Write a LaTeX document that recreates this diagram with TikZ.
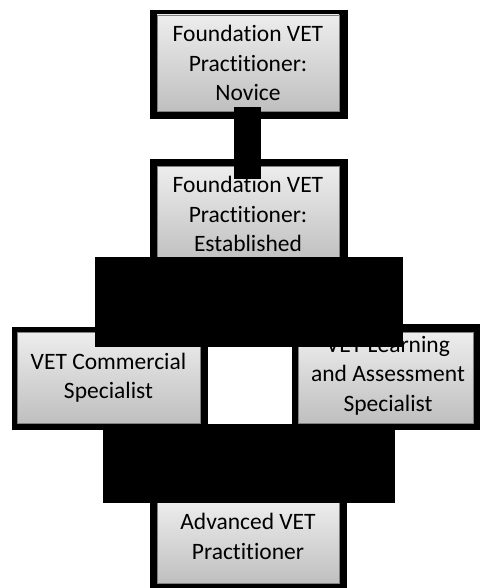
\documentclass[tikz,border=0pt]{standalone}
\usepackage{fontspec}
\setmainfont[Ligatures={NoCommon}]{Carlito}
\definecolor{boxtop}{gray}{0.93}
\definecolor{boxbot}{gray}{0.75}
\pgfdeclarelayer{bg}
\pgfsetlayers{bg,main}
\begin{document}
\begin{tikzpicture}[x=1pt,y=-1pt,
  box/.style={rectangle, top color=boxtop, bottom color=boxbot, draw=gray, line width=0.8pt,
    align=center, inner sep=0pt, font=\fontsize{23.5}{29.5}\selectfont},
  boxtext/.style={align=center, inner sep=0pt, font=\fontsize{23.5}{29.5}\selectfont},
  frame/.style={fill=black},
  blk/.style={fill=black}]
\useasboundingbox (0,0) rectangle (480,588);

% Novice
\node[box, minimum width=182pt, minimum height=96pt] (novice) at (248,63)
  {Foundation VET\\Practitioner:\\Novice};
\begin{pgfonlayer}{bg}
\fill[frame] ([xshift=-7pt,yshift=5pt]novice.north west) rectangle ([xshift=9pt,yshift=-8pt]novice.south east);
\end{pgfonlayer}

% Established
\node[box, minimum width=182pt, minimum height=96pt] (established) at (248,214)
  {Foundation VET\\Practitioner:\\Established};
\begin{pgfonlayer}{bg}
\fill[frame] ([xshift=-7pt,yshift=7pt]established.north west) rectangle ([xshift=9pt,yshift=-8pt]established.south east);
\end{pgfonlayer}

% connector novice -> established
\fill[blk] ([xshift=-14pt,yshift=4pt]novice.south) rectangle ([xshift=13pt,yshift=-13pt]established.north);

% Commercial
\node[box, minimum width=183pt, minimum height=91pt] (commercial) at (108.5,377.5)
  {VET Commercial\\Specialist};
\begin{pgfonlayer}{bg}
\fill[frame] ([xshift=-5pt,yshift=5pt]commercial.north west) rectangle ([xshift=8pt,yshift=-7pt]commercial.south east);
\end{pgfonlayer}

% Learning and Assessment
\node[box, minimum width=175pt, minimum height=91pt] (learning) at (385.5,377.5) {};
\node[boxtext] (learningtext) at ([xshift=2.5pt,yshift=2pt]learning.center)
  {VET Learning\\and Assessment\\Specialist};
\begin{pgfonlayer}{bg}
\fill[frame] ([xshift=-6pt,yshift=8pt]learning.north west) rectangle ([xshift=7pt,yshift=-7pt]learning.south east);
\end{pgfonlayer}

% connector block established -> specialists
\fill[blk] ([xshift=-153pt,yshift=5pt]established.south) rectangle ([xshift=105pt,yshift=-15pt]learning.north west);

% Advanced
\node[box, minimum width=182pt, minimum height=82pt] (advanced) at (248,542) {};
\node[boxtext] (advancedtext) at ([yshift=5.5pt]advanced.center) {Advanced VET\\Practitioner};
\begin{pgfonlayer}{bg}
\fill[frame] ([xshift=-7pt,yshift=5pt]advanced.north west) rectangle ([xshift=8pt,yshift=-5pt]advanced.south east);
\end{pgfonlayer}

% connector block specialists -> advanced
\fill[blk] ([xshift=-5.5pt,yshift=-1pt]commercial.south) rectangle ([xshift=147pt,yshift=-2pt]advanced.north);
\end{tikzpicture}
\end{document}
